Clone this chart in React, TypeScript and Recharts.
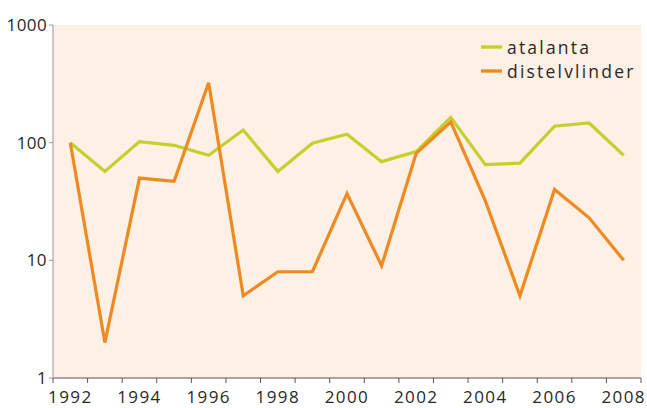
import { LineChart, Line, XAxis, YAxis, CartesianGrid, Legend } from "recharts"

const years = [1992, 1993, 1994, 1995, 1996, 1997, 1998, 1999, 2000, 2001, 2002, 2003, 2004, 2005, 2006, 2007, 2008]
const atalanta = [100, 57, 102, 95, 78, 128, 57, 99, 118, 69, 84, 164, 65, 67, 138, 147, 78]
const distelvlinder = [100, 2, 50, 47, 323, 5, 8, 8, 37, 9, 81, 150, 32, 5, 40, 23, 10]

const yearLabels = [1992, 1994, 1996, 1998, 2000, 2002, 2004, 2006, 2008]
const yearBounds = [...years.map((y) => y - 0.5), 2008.5]
const xTicks = [...yearBounds, ...yearLabels].sort((a, b) => a - b)
const yTicks = [1, 10, 100, 1000]

const series = [
  { key: "atalanta", color: "#c4d02c" },
  { key: "distelvlinder", color: "#ef8a22" },
]

const data = years.map((year, i) => ({
  year,
  atalanta: atalanta[i],
  distelvlinder: distelvlinder[i],
}))

const FONT = "'Open Sans', 'DejaVu Sans', sans-serif"
const TEXT = "#2b2728"

// even years get a label in the middle of their slot, the half-year bounds get a tick mark
const YearTick = (props: any) => {
  const { x, y, payload } = props
  const v = payload.value
  if (Number.isInteger(v)) {
    return (
      <text x={x} y={y + 13} dy="0.71em" textAnchor="middle" fill={TEXT} fontSize={17} fontFamily={FONT} letterSpacing={1.4}>
        {v}
      </text>
    )
  }
  return <line x1={x} x2={x} y1={y} y2={y + 5} stroke="#555" strokeWidth={1} />
}

const LegendBox = () => (
  <div style={{ fontFamily: FONT }}>
    {series.map((s) => (
      <div key={s.key} style={{ display: "flex", alignItems: "center", height: 24 }}>
        <svg width={27} height={10} style={{ display: "block" }}>
          <line x1={1} x2={22} y1={5} y2={5} stroke={s.color} strokeWidth={3.4} />
        </svg>
        <span style={{ fontSize: 17.5, letterSpacing: 2.2, color: TEXT, lineHeight: "24px" }}>{s.key}</span>
      </div>
    ))}
  </div>
)

export default function App() {
  return (
    <div style={{ position: "absolute", left: 0, top: 0, width: 647, height: 408, background: "#fff" }}>
      <LineChart width={647} height={408} data={data} margin={{ top: 25, right: 6, left: 0, bottom: 0 }}>
        <CartesianGrid horizontal={false} vertical={false} fill="#fdf0e5" />
        <XAxis
          dataKey="year"
          type="number"
          domain={[1991.5, 2008.5]}
          ticks={xTicks}
          interval={0}
          tickLine={false}
          tickSize={0}
          tickMargin={0}
          tick={<YearTick />}
          stroke="#555"
          height={30}
        />
        <YAxis
          type="number"
          scale="log"
          domain={[1, 1000]}
          ticks={yTicks}
          allowDataOverflow
          width={53}
          tickSize={4}
          tickMargin={2}
          stroke="#9b9797"
          tick={{ fill: TEXT, fontSize: 17, fontFamily: FONT, letterSpacing: 0.4 }}
        />
        <Legend
          layout="vertical"
          align="center"
          verticalAlign="middle"
          content={<LegendBox />}
          wrapperStyle={{ left: 480, top: 35, width: 160 }}
        />
        {series.map((s) => (
          <Line
            key={s.key}
            type="linear"
            dataKey={s.key}
            stroke={s.color}
            strokeWidth={3.2}
            dot={false}
            activeDot={false}
            isAnimationActive={false}
          />
        ))}
      </LineChart>
    </div>
  )
}
